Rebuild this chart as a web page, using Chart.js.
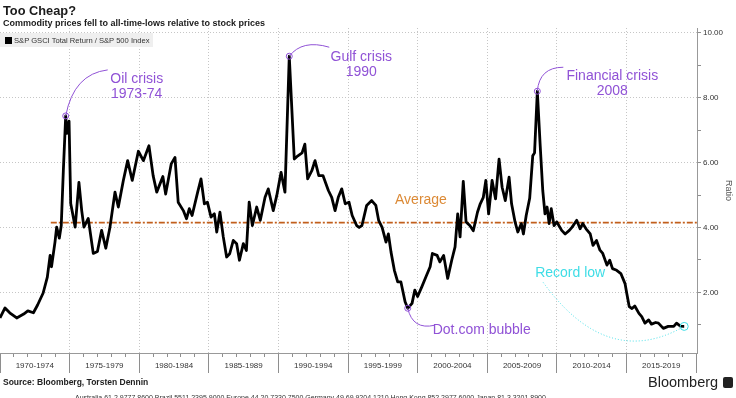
<!DOCTYPE html>
<html>
<head>
<meta charset="utf-8">
<script src="https://cdn.jsdelivr.net/npm/chart.js@4.4.0/dist/chart.umd.min.js"></script>
<style>
  body { margin: 0; width: 736px; height: 398px; overflow: hidden; background: #fff; position: relative;
         font-family: 'Liberation Sans', Arial, sans-serif; color: #1a1a1a; }
  #wrap { position: absolute; left: 0; top: 0; width: 736px; height: 398px; }
  .txt { position: absolute; white-space: nowrap; }
  #title { left: 3px; top: 3px; font-size: 12.8px; font-weight: bold; }
  #subtitle { left: 3px; top: 18px; font-size: 9px; font-weight: bold; }
  #legend { left: 0; top: 33px; width: 153px; height: 14px; background: #efefef; font-size: 7.6px; color: #333; }
  #legend span.box { position: absolute; left: 5px; top: 4px; width: 7px; height: 7px; background: #000; }
  #legend span.lab { position: absolute; left: 14px; top: 2.5px; }
  #source { left: 3px; top: 377px; font-size: 8.5px; font-weight: bold; color: #222; }
  #brand { left: 648px; top: 374px; font-size: 14.5px; color: #222; }
  #brandIcon { left: 723px; top: 377px; width: 10px; height: 11px; background: #222; border-radius: 2px; }
  #fine { left: 75px; top: 394px; font-size: 7px; color: #333; }
</style>
</head>
<body>
<div id="wrap"><canvas id="ratioChart" width="736" height="398"></canvas></div>
<div class="txt" id="title">Too Cheap?</div>
<div class="txt" id="subtitle">Commodity prices fell to all-time-lows relative to stock prices</div>
<div class="txt" id="legend"><span class="box"></span><span class="lab">S&amp;P GSCI Total Return / S&amp;P 500 Index</span></div>
<div class="txt" id="source">Source: Bloomberg, Torsten Dennin</div>
<div class="txt" id="brand">Bloomberg</div>
<div class="txt" id="brandIcon"></div>
<div class="txt" id="fine">Australia 61 2 9777 8600 Brazil 5511 2395 9000 Europe 44 20 7330 7500 Germany 49 69 9204 1210 Hong Kong 852 2977 6000 Japan 81 3 3201 8900</div>

<script>
// S&P GSCI Total Return / S&P 500 ratio (decimal years)
const years = [
  1970.0, 1970.36, 1970.7, 1971.2, 1971.7, 1972.0, 1972.4, 1972.7, 1973.1, 1973.4,
  1973.6, 1973.7, 1973.95, 1974.07, 1974.26, 1974.4, 1974.55, 1974.72, 1974.8, 1974.96,
  1975.08, 1975.2, 1975.4, 1975.67, 1975.87, 1976.03, 1976.34, 1976.7, 1977.0, 1977.3,
  1977.6, 1977.9, 1978.26, 1978.5, 1978.86, 1979.17, 1979.5, 1979.94, 1980.3, 1980.7,
  1981.0, 1981.26, 1981.7, 1981.9, 1982.3, 1982.57, 1982.8, 1983.17, 1983.4, 1983.6,
  1983.8, 1984.2, 1984.44, 1984.68, 1984.9, 1985.16, 1985.4, 1985.57, 1985.8, 1986.04,
  1986.28, 1986.5, 1986.76, 1987.0, 1987.2, 1987.48, 1987.7, 1987.9, 1988.13, 1988.44,
  1988.7, 1989.04, 1989.27, 1989.63, 1989.88, 1990.19, 1990.47, 1990.78, 1991.14, 1991.4,
  1991.7, 1991.9, 1992.1, 1992.4, 1992.63, 1992.9, 1993.2, 1993.59, 1993.83, 1994.07,
  1994.3, 1994.55, 1994.8, 1995.07, 1995.3, 1995.62, 1995.8, 1996.0, 1996.34, 1996.7,
  1997.0, 1997.2, 1997.45, 1997.73, 1997.9, 1998.09, 1998.33, 1998.57, 1998.8, 1999.1,
  1999.29, 1999.6, 1999.8, 2000.0, 2000.3, 2000.6, 2000.9, 2001.06, 2001.4, 2001.6,
  2001.87, 2002.16, 2002.45, 2002.69, 2002.88, 2003.05, 2003.28, 2003.48, 2003.75, 2004.0,
  2004.3, 2004.5, 2004.72, 2004.9, 2005.1, 2005.35, 2005.6, 2005.85, 2006.07, 2006.3,
  2006.57, 2006.75, 2007.0, 2007.2, 2007.45, 2007.6, 2007.8, 2008.05, 2008.27, 2008.4,
  2008.6, 2008.8, 2008.99, 2009.15, 2009.3, 2009.45, 2009.6, 2009.8, 2010.0, 2010.35,
  2010.6, 2010.9, 2011.1, 2011.43, 2011.67, 2011.86, 2012.1, 2012.4, 2012.6, 2012.85,
  2013.1, 2013.3, 2013.6, 2013.8, 2014.0, 2014.3, 2014.6, 2014.9, 2015.03, 2015.2,
  2015.4, 2015.6, 2015.9, 2016.1, 2016.33, 2016.6, 2016.8, 2017.1, 2017.3, 2017.65,
  2018.0, 2018.4, 2018.6, 2018.9, 2019.15
];
const ratio = [
  1.21, 1.52, 1.37, 1.21, 1.33, 1.43, 1.37, 1.61, 1.98, 2.47,
  3.14, 2.79, 3.55, 4.01, 3.67, 4.06, 5.75, 7.44, 6.90, 7.28,
  4.74, 4.47, 4.01, 5.39, 4.52, 4.01, 4.28, 3.20, 3.26, 3.91,
  3.36, 4.01, 5.09, 4.63, 5.45, 6.06, 5.45, 6.35, 6.06, 6.52,
  5.60, 5.09, 5.57, 5.03, 5.96, 6.16, 4.78, 4.52, 4.27, 4.58,
  4.37, 5.09, 5.50, 4.73, 4.78, 4.32, 4.42, 3.86, 4.47, 3.71,
  3.09, 3.19, 3.60, 3.50, 2.99, 3.50, 3.29, 4.78, 4.06, 4.63,
  4.22, 4.93, 5.19, 4.52, 4.98, 5.70, 5.09, 9.28, 6.11, 6.21,
  6.30, 6.57, 5.50, 5.75, 6.06, 5.60, 5.60, 5.14, 4.93, 4.52,
  4.93, 5.19, 4.73, 4.78, 4.37, 4.06, 4.00, 4.06, 4.68, 4.83,
  4.68, 4.22, 4.00, 3.55, 3.80, 3.24, 2.68, 2.32, 2.32, 1.71,
  1.51, 1.66, 2.07, 1.87, 2.17, 2.48, 2.79, 3.20, 3.14, 2.94,
  3.14, 2.43, 2.99, 3.40, 4.42, 3.71, 5.42, 4.17, 4.06, 3.90,
  4.47, 4.73, 4.93, 5.45, 4.42, 5.45, 4.88, 6.11, 5.24, 4.83,
  5.55, 4.73, 4.17, 3.86, 4.12, 3.80, 4.37, 4.90, 6.21, 6.30,
  8.20, 6.57, 5.14, 4.42, 4.63, 4.12, 4.58, 4.06, 4.17, 3.91,
  3.80, 3.91, 4.01, 4.22, 3.96, 4.12, 3.96, 3.80, 3.45, 3.60,
  3.30, 3.20, 2.84, 2.99, 2.73, 2.68, 2.58, 2.27, 1.96, 1.56,
  1.50, 1.58, 1.35, 1.25, 1.05, 1.15, 1.02, 1.07, 1.05, 0.89,
  0.95, 0.95, 1.05, 0.95, 0.95
];
const averageRatio = 4.15;
const averageFrom = 1973.65;

const periodLabels = ['1970-1974', '1975-1979', '1980-1984', '1985-1989', '1990-1994',
                      '1995-1999', '2000-2004', '2005-2009', '2010-2014', '2015-2019'];
const ratioTicks = [2, 4, 6, 8, 10];

const eventNames = ['Oil crisis\n1973-74', 'Gulf crisis\n1990', 'Financial crisis\n2008', 'Dot.com bubble', 'Record low'];
const eventYears = [1974.72, 1990.78, 2008.6, 1999.29, 2019.15];

const xMin = 1970, xMax = 2020.07;

// callout look, same order as eventNames: label offset from the point, connector curve
const purple = '#9052d6';
const callouts = [
  { dx: 71, dy: -37, ctrl: [8, -42], end: [42, -46], color: purple, r: 3 },
  { dx: 72, dy: 1, ctrl: [13, -17], end: [40, -9], color: purple, r: 3 },
  { dx: 75, dy: -15, ctrl: [2, -24], end: [26, -24], color: purple, r: 3 },
  { dx: 74, dy: 22, ctrl: [5, 22], end: [27, 17], color: purple, r: 3 },
  { dx: -114, dy: -53, ctrl: [-77, 44], start: [-141, -44], color: '#3fdde6', r: 4, dotted: true }
];

const calloutPlugin = {
  id: 'callouts',
  afterDatasetsDraw(chart) {
    const ctx = chart.ctx;
    const meta = chart.getDatasetMeta(0);
    ctx.save();
    ctx.font = '14px "Liberation Sans", Arial, sans-serif';
    ctx.textAlign = 'center';
    ctx.textBaseline = 'middle';
    eventYears.forEach((yr, i) => {
      const idx = years.indexOf(yr);
      const pt = meta.data[idx];
      const c = callouts[i];
      const px = pt.x, py = pt.y;
      ctx.strokeStyle = c.color;
      ctx.lineWidth = 1;
      ctx.setLineDash(c.dotted ? [1, 2] : []);
      ctx.beginPath();
      if (c.start) {
        ctx.moveTo(px + c.start[0], py + c.start[1]);
        ctx.quadraticCurveTo(px + c.ctrl[0], py + c.ctrl[1], px, py);
      } else {
        ctx.moveTo(px, py);
        ctx.quadraticCurveTo(px + c.ctrl[0], py + c.ctrl[1], px + c.end[0], py + c.end[1]);
      }
      ctx.stroke();
      ctx.setLineDash([]);
      ctx.beginPath();
      ctx.arc(px, py, c.r, 0, Math.PI * 2);
      ctx.stroke();
      ctx.fillStyle = c.color;
      const lines = eventNames[i].split('\n');
      lines.forEach((t, k) => {
        ctx.fillText(t, px + c.dx, py + c.dy + k * 15);
      });
    });
    // average label
    const ax = chart.scales.x.getPixelForValue(2000.24);
    const ay = chart.scales.y.getPixelForValue(averageRatio);
    ctx.fillStyle = '#dc8a36';
    ctx.fillText('Average', ax, ay - 22);
    ctx.restore();
  }
};

const isMajor = v => Number.isInteger(v) && v % 5 === 0;
const isLabelTick = v => !Number.isInteger(v);

const ctx = document.getElementById('ratioChart').getContext('2d');
const ratioChart = new Chart(ctx, {
  type: 'line',
  data: {
    datasets: [{
      label: 'S&P GSCI Total Return / S&P 500 Index',
      data: years.map((x, i) => ({ x: x, y: ratio[i] })),
      borderColor: '#000',
      borderWidth: 2.8,
      borderJoinStyle: 'round',
      pointRadius: 0,
      tension: 0
    }, {
      label: 'Average',
      data: [{ x: averageFrom, y: averageRatio }, { x: xMax, y: averageRatio }],
      borderColor: '#c25f1c',
      borderWidth: 1.6,
      borderDash: [6, 2, 2, 2],
      pointRadius: 0
    }]
  },
  options: {
    responsive: false,
    animation: false,
    layout: { padding: { top: 28, left: 0, right: 0, bottom: 25 } },
    plugins: {
      legend: { display: false },
      tooltip: { enabled: false }
    },
    scales: {
      x: {
        type: 'linear',
        min: xMin,
        max: xMax,
        afterBuildTicks: scale => {
          const t = [];
          for (let y = 1970; y <= 2020; y++) t.push({ value: y });
          periodLabels.forEach((_, k) => t.push({ value: 1972.5 + 5 * k }));
          t.sort((a, b) => a.value - b.value);
          scale.ticks = t;
        },
        afterFit: scale => { scale.height = 20; },
        ticks: {
          autoSkip: false,
          maxRotation: 0,
          minRotation: 0,
          padding: -12,
          color: '#333',
          font: { family: '"Liberation Sans", Arial, sans-serif', size: 8 },
          callback: v => isLabelTick(v) ? periodLabels[(v - 1972.5) / 5] : ''
        },
        grid: {
          tickLength: 20,
          color: c => (c.tick && isMajor(c.tick.value) && c.tick.value > xMin && c.tick.value < 2020) ? '#c6c6c6' : 'transparent',
          tickColor: c => (c.tick && isLabelTick(c.tick.value)) ? 'transparent' : '#8e8e8e',
          tickBorderDash: c => (c.tick && isMajor(c.tick.value)) ? [] : [3, 40]
        },
        border: { color: '#999', dash: [1, 2] }
      },
      y: {
        position: 'right',
        min: 0.13,
        max: 10.15,
        afterBuildTicks: scale => {
          const t = [];
          for (let v = 1; v <= 10; v++) t.push({ value: v });
          scale.ticks = t;
        },
        afterFit: scale => { scale.width = 39; },
        ticks: {
          autoSkip: false,
          padding: 2,
          color: '#333',
          font: { family: '"Liberation Sans", Arial, sans-serif', size: 8 },
          callback: v => ratioTicks.includes(v) ? v.toFixed(2) : ''
        },
        grid: {
          tickLength: 4,
          color: c => (c.tick && ratioTicks.includes(c.tick.value)) ? '#c6c6c6' : 'transparent',
          tickColor: '#8e8e8e'
        },
        border: { color: '#999', dash: [1, 2] },
        title: {
          display: true,
          text: 'Ratio',
          color: '#555',
          padding: { top: 2, bottom: 2 },
          font: { family: '"Liberation Sans", Arial, sans-serif', size: 9 }
        }
      }
    }
  },
  plugins: [calloutPlugin]
});
</script>
</body>
</html>
